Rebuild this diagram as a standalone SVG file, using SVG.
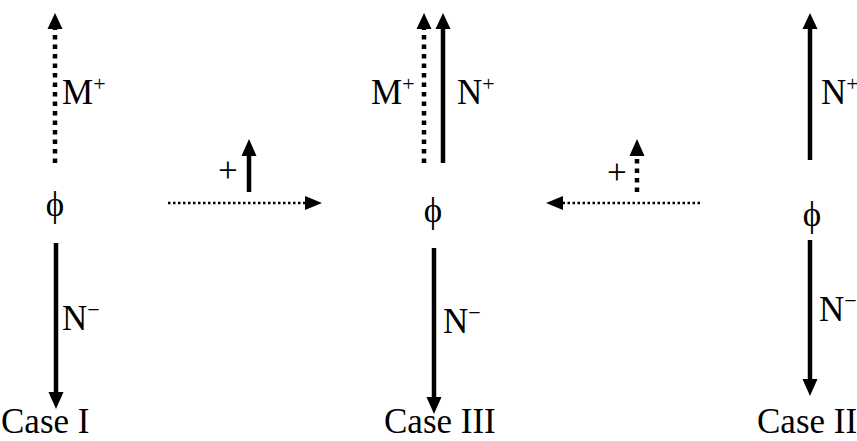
<svg xmlns="http://www.w3.org/2000/svg" width="857" height="441" viewBox="0 0 857 441">
<style>
text{font-family:"Liberation Serif","Times New Roman",serif;fill:#000}
.lbl{font-size:35px}
.sup{font-size:22px}
.solid{stroke:#000;stroke-width:4.5;fill:none}
.dotv{stroke:#000;stroke-width:4.5;fill:none;stroke-dasharray:4.5 5}
.doth{stroke:#000;stroke-width:2.5;fill:none;stroke-dasharray:2.5 2.5}
.head{fill:#000}
</style>
<rect width="857" height="441" fill="#fff"/>
<g id="connectors">
  <path class="dotv" d="M55 163 V28"/>
  <path class="head" d="M55 13 L47.5 29 L62.5 29 Z"/>
  <path class="solid" d="M56 243 V394"/>
  <path class="head" d="M56 409 L48.5 392 L63.5 392 Z"/>
  <path class="doth" d="M168 203 H306"/>
  <path class="head" d="M322 203 L305 196 L305 210 Z"/>
  <path class="solid" d="M249 192 V155"/>
  <path class="head" d="M249 139 L241.5 156 L256.5 156 Z"/>
  <path class="dotv" d="M424 163 V28"/>
  <path class="head" d="M424 13 L416.5 29 L431.5 29 Z"/>
  <path class="solid" d="M443 163 V28"/>
  <path class="head" d="M443 13 L435.5 29 L450.5 29 Z"/>
  <path class="solid" d="M434 248 V399"/>
  <path class="head" d="M434 414 L426.5 397 L441.5 397 Z"/>
  <path class="doth" d="M700 203 H562"/>
  <path class="head" d="M546 203 L563 196 L563 210 Z"/>
  <path class="dotv" d="M637 192 V155"/>
  <path class="head" d="M637 139 L629.5 156 L644.5 156 Z"/>
  <path class="solid" d="M810 160 V28"/>
  <path class="head" d="M810 13 L802.5 29 L817.5 29 Z"/>
  <path class="solid" d="M810 240 V381"/>
  <path class="head" d="M810 396 L802.5 379 L817.5 379 Z"/>
</g>
<g id="caseI">
  <text class="lbl" x="62" y="104">M<tspan class="sup" dy="-13">+</tspan></text>
  <text class="lbl" x="55" y="216" text-anchor="middle">ϕ</text>
  <text class="lbl" x="62" y="330">N<tspan class="sup" dy="-13">−</tspan></text>
  <text class="lbl" x="1" y="433">Case I</text>
</g>
<g id="plus-left">
  <text class="lbl" x="218" y="182">+</text>
</g>
<g id="caseIII">
  <text class="lbl" x="371" y="104">M<tspan class="sup" dy="-13">+</tspan></text>
  <text class="lbl" x="457" y="104">N<tspan class="sup" dy="-13">+</tspan></text>
  <text class="lbl" x="433" y="222" text-anchor="middle">ϕ</text>
  <text class="lbl" x="443" y="333">N<tspan class="sup" dy="-13">−</tspan></text>
  <text class="lbl" x="384" y="433">Case III</text>
</g>
<g id="plus-right">
  <text class="lbl" x="607" y="184">+</text>
</g>
<g id="caseII">
  <text class="lbl" x="821" y="104">N<tspan class="sup" dy="-13">+</tspan></text>
  <text class="lbl" x="812" y="226" text-anchor="middle">ϕ</text>
  <text class="lbl" x="819" y="321">N<tspan class="sup" dy="-13">−</tspan></text>
  <text class="lbl" x="757" y="433">Case II</text>
</g>
</svg>
